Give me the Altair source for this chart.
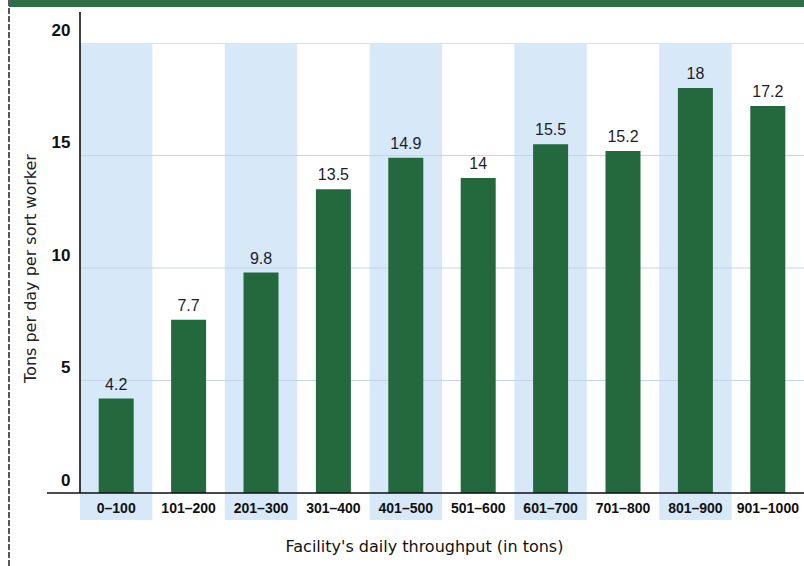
import altair as alt
import pandas as pd

# Sort-worker productivity by facility size
categories = ["0–100", "101–200", "201–300", "301–400", "401–500",
              "501–600", "601–700", "701–800", "801–900", "901–1000"]
tons_per_worker = [4.2, 7.7, 9.8, 13.5, 14.9, 14, 15.5, 15.2, 18, 17.2]

W, H = 724, 450
GREEN = "#23693d"
STRIPE = "#d7e8f8"
FONT = "Liberation Sans"
WIDE = "DejaVu Sans"

df = pd.DataFrame({"range": categories, "tons": tons_per_worker})
df["label"] = df["tons"].map(lambda v: f"{v:g}")
stripes = pd.DataFrame({"range": categories[0::2]})

x_scale = alt.Scale(domain=categories, paddingInner=0, paddingOuter=0)
y_scale = alt.Scale(domain=[0, 20], nice=False)

x_axis = alt.Axis(
    title="Facility's daily throughput (in tons)",
    labelAngle=0, labelFont=FONT, labelFontSize=14, labelFontWeight="bold",
    labelColor="#111", labelPadding=8, ticks=False, domain=False,
    titleFont=WIDE, titleFontSize=16, titleFontWeight="normal",
    titleColor="#111", titlePadding=23, titleX=344,
)
y_axis = alt.Axis(
    title="Tons per day per sort worker", values=[0, 5, 10, 15, 20],
    labelFont=FONT, labelFontSize=17, labelFontWeight="bold",
    labelColor="#111", labelPadding=10, labelOffset=-13,
    ticks=False, domain=False, grid=False,
    titleFont=WIDE, titleFontSize=16, titleFontWeight="normal",
    titleColor="#222", titlePadding=13,
)

# Alternating light-blue column shading, running down behind the labels
stripe_layer = alt.Chart(stripes).mark_rect(color=STRIPE, clip=False).encode(
    x=alt.X("range:N", scale=x_scale, axis=x_axis, sort=categories),
    y=alt.value(0), y2=alt.value(H + 27),
)

grid_layer = alt.Chart(pd.DataFrame({"g": [5, 10, 15]})).mark_rule(
    color="#c3d4e6", strokeWidth=1
).encode(y=alt.Y("g:Q", scale=y_scale, axis=y_axis))

bars = alt.Chart(df).mark_bar(color=GREEN, width=35).encode(
    x=alt.X("range:N", scale=x_scale, sort=categories),
    y=alt.Y("tons:Q", scale=y_scale),
)

labels = alt.Chart(df).mark_text(
    dy=-14, font=FONT, fontSize=16, color="#1c1c2a"
).encode(
    x=alt.X("range:N", scale=x_scale, sort=categories),
    y=alt.Y("tons:Q", scale=y_scale),
    text="label:N",
)

# Axis lines and frame
baseline = alt.Chart(pd.DataFrame({"z": [0]})).mark_rule(
    color="#111", strokeWidth=1.6, clip=False
).encode(y=alt.Y("z:Q", scale=y_scale), x=alt.value(-33), x2=alt.value(W))

y_line = alt.Chart(pd.DataFrame({"z": [0]})).mark_rule(
    color="#111", strokeWidth=1.6, clip=False
).encode(x=alt.value(0), y=alt.value(-31), y2=alt.value(H))

frame_left = alt.Chart(pd.DataFrame({"z": [0]})).mark_rule(
    color="#222", strokeWidth=1.5, strokeDash=[6, 2], clip=False
).encode(x=alt.value(-71), y=alt.value(-43), y2=alt.value(H + 73))

top_band = alt.Chart(pd.DataFrame({"z": [0]})).mark_rect(
    color="#2f6e47", clip=False
).encode(x=alt.value(-71), x2=alt.value(W), y=alt.value(-43), y2=alt.value(-36))

chart = alt.layer(
    stripe_layer, grid_layer, bars, labels, baseline, y_line, frame_left, top_band
).properties(
    width=W, height=H,
    autosize=alt.AutoSizeParams(type="none"),
    padding={"left": 80, "top": 43, "right": 0, "bottom": 73},
).configure_view(stroke=None).configure(background="white")

chart.save("out.html", embed_options={"renderer": "svg", "actions": False})
